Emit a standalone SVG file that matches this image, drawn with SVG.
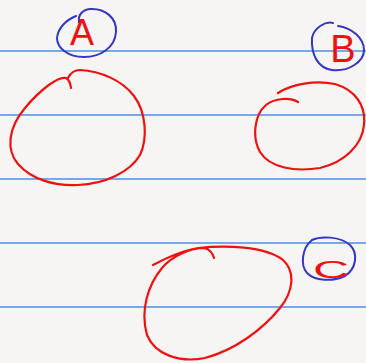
<svg xmlns="http://www.w3.org/2000/svg" width="366" height="363" viewBox="0 0 366 363">
<style>
.rule{stroke:#4d8fdc;stroke-width:1.3;fill:none}
.red{stroke:#f01010;stroke-width:2.2;fill:none;stroke-linecap:round;stroke-linejoin:round}
.blue{stroke:#3535c8;stroke-width:2;fill:none;stroke-linecap:round}
.lbl{fill:#f01010;font-family:"Liberation Sans",Arial,sans-serif;text-anchor:middle}
</style>
<rect width="366" height="363" fill="#f6f5f3"/>
<g id="paper-lines">
<line class="rule" x1="0" y1="51" x2="366" y2="51"/>
<line class="rule" x1="0" y1="115" x2="366" y2="115"/>
<line class="rule" x1="0" y1="179" x2="366" y2="179"/>
<line class="rule" x1="0" y1="243" x2="366" y2="243"/>
<line class="rule" x1="0" y1="307" x2="366" y2="307"/>
</g>
<g id="connectors"></g>
<g id="label-A">
<path class="blue" d="M79,22 C78,15 82,10 90,9 C105,8 117,18 116,32 C115,48 100,57 84,57 C68,57 57,48 57,38 C58,28 66,20 76,16"/>
<text class="lbl" x="82" y="45" font-size="36">A</text>
</g>
<g id="label-B">
<path class="blue" d="M333,23 C325,21 314,28 312,38 C311,55 318,68 332,70 C348,72 364,62 364,50 C364,38 352,28 338,26"/>
<text class="lbl" x="343" y="62" font-size="38">B</text>
</g>
<g id="label-C">
<path class="blue" d="M312,240 C320,236 340,236 350,245 C358,253 357,268 345,276 C332,282 315,281 307,273 C300,265 302,248 312,240"/>
<text class="lbl" x="331" y="278" font-size="24" textLength="36" lengthAdjust="spacingAndGlyphs">C</text>
</g>
<g id="node-A">
<path class="red" d="M71,88 Q70,80 66,78 C58,76 40,90 25,108 C8,128 6,150 18,164 C32,180 55,186 78,185 C105,184 130,172 140,155 C148,138 146,112 134,96 C122,80 100,71 80,70 Q72,70 68,78"/>
</g>
<g id="node-B">
<path class="red" d="M278,93 C292,84 315,80 335,84 C355,90 366,105 364,125 C362,145 345,162 320,168 C295,172 270,168 260,152 C252,138 254,115 266,105 C275,98 290,97 298,102"/>
</g>
<g id="node-C">
<path class="red" d="M153,265 C170,256 185,250 198,248 C225,245 265,246 283,260 C296,272 293,292 280,308 C262,330 235,350 205,358 C180,363 155,355 147,335 C140,310 148,285 162,268 C172,256 190,248 205,248 C210,250 213,254 214,258"/>
</g>
</svg>
